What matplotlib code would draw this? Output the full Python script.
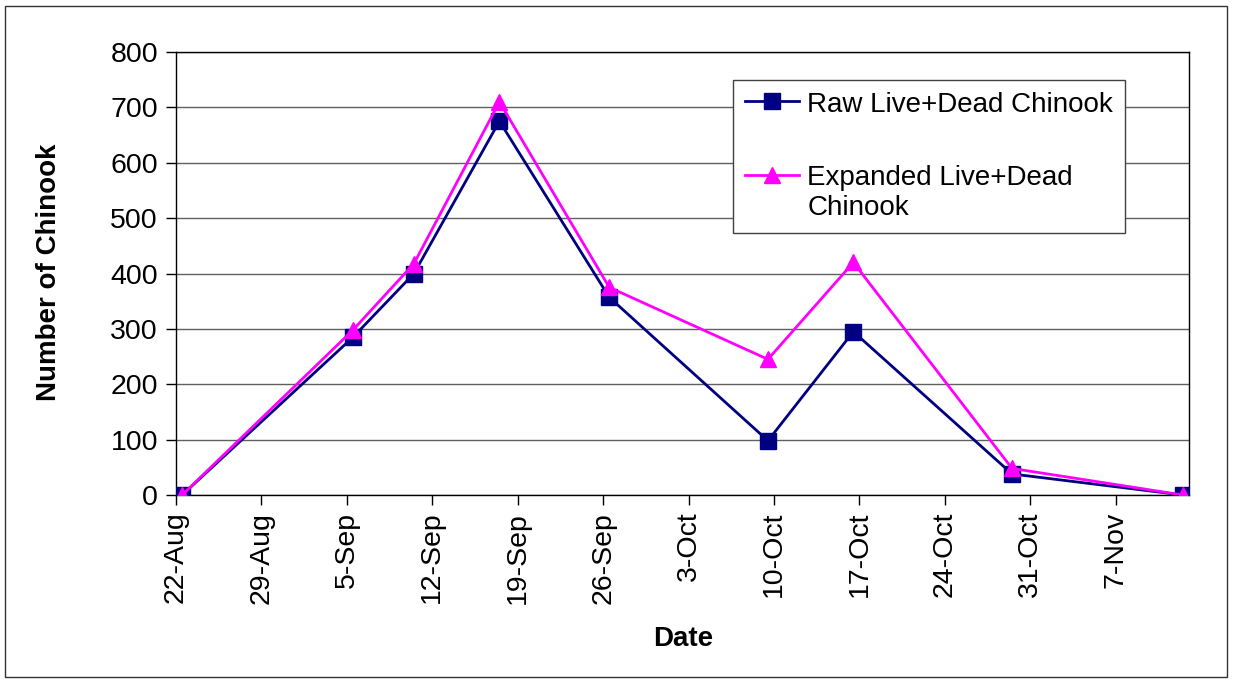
import matplotlib
matplotlib.use("Agg")
import matplotlib.pyplot as plt
import matplotlib.dates as mdates
from matplotlib.patches import Rectangle
import datetime as dt

plt.rcParams['font.family'] = ['Liberation Sans', 'DejaVu Sans']

# Survey dates (year arbitrary) and counts
survey_dates = ["2006-08-22", "2006-09-05", "2006-09-10", "2006-09-17", "2006-09-26",
                "2006-10-09", "2006-10-16", "2006-10-29", "2006-11-12"]
raw_live_dead = [0, 285, 400, 675, 357, 98, 295, 38, 0]
expanded_live_dead = [0, 298, 418, 710, 375, 245, 420, 48, 0]
tick_dates = ["2006-08-22", "2006-08-29", "2006-09-05", "2006-09-12", "2006-09-19",
              "2006-09-26", "2006-10-03", "2006-10-10", "2006-10-17", "2006-10-24",
              "2006-10-31", "2006-11-07"]
series_labels = ["Raw Live+Dead Chinook", "Expanded Live+Dead\nChinook"]

# Excel date axis: points drawn at the middle of each day
half_day = dt.timedelta(hours=12)
x = [dt.datetime.fromisoformat(d) + half_day for d in survey_dates]
ticks = [dt.datetime.fromisoformat(d) for d in tick_dates]

W, H = 1233, 682
fig = plt.figure(figsize=(W / 100, H / 100), dpi=100)
ax = fig.add_axes([176 / W, 1 - 495 / H, (1189 - 176) / W, (495 - 52) / H])

ax.plot(x, raw_live_dead, color="#000080", lw=2, marker="s", ms=11,
        mfc="#000080", mec="#000080", label=series_labels[0], zorder=3)
ax.plot(x, expanded_live_dead, color="#FF00FF", lw=2, marker="^", ms=12,
        mfc="#FF00FF", mec="#FF00FF", label=series_labels[1], zorder=4)

ax.set_xlim(dt.datetime(2006, 8, 22), dt.datetime(2006, 11, 13))
ax.set_ylim(0, 800)
ax.set_yticks(range(0, 801, 100))
ax.set_xticks(ticks)
ax.xaxis.set_major_formatter(mdates.DateFormatter("%-d-%b"))
ax.tick_params(axis="x", labelrotation=90, labelsize=20.5, length=7, width=1, pad=5,
               direction="out")
ax.tick_params(axis="y", labelsize=20.5, length=7, width=1, pad=6, direction="out")
for lbl in ax.get_xticklabels():
    lbl.set_verticalalignment("top")

ax.grid(axis="y", color="#606060", lw=1)
ax.set_axisbelow(True)
for s in ax.spines.values():
    s.set_color("black")
    s.set_linewidth(1)

ax.set_ylabel("Number of Chinook", fontsize=20, fontweight="bold")
ax.set_xlabel("Date", fontsize=20, fontweight="bold")
ax.yaxis.set_label_coords(62 / W, 1 - 272 / H, transform=fig.transFigure)
ax.xaxis.set_label_coords(683 / W, 1 - 626 / H, transform=fig.transFigure)

leg = ax.legend(loc="upper left", bbox_to_anchor=(733 / W, 1 - 80 / H),
                bbox_transform=fig.transFigure, fontsize=20, frameon=True,
                fancybox=False, edgecolor="#404040", framealpha=1,
                handlelength=1.95, handletextpad=0.3, labelspacing=1.7,
                borderpad=0.42, borderaxespad=0)
leg.get_frame().set_linewidth(1)
# align handles with the first line of multi-line labels (as in the original)
try:
    for col in leg._legend_handle_box.get_children():
        for hp in col.get_children():
            hp.align = "top"
except Exception:
    pass

fig.patches.append(Rectangle((5 / W, 5 / H), (W - 11) / W, (H - 11) / H,
                             transform=fig.transFigure, fill=False,
                             edgecolor="#333333", lw=1))

fig.savefig("out.png", dpi=100)
